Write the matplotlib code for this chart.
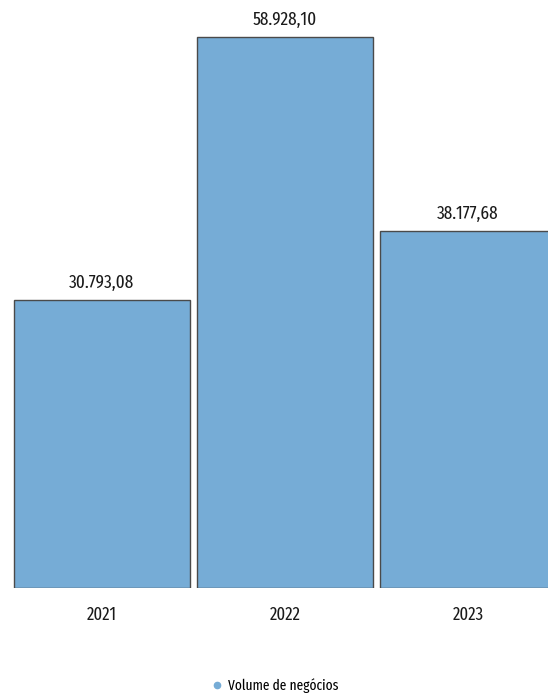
import matplotlib
matplotlib.use("Agg")
import matplotlib.pyplot as plt
from matplotlib.lines import Line2D

plt.rcParams['font.family'] = ['Fira Sans Extra Condensed', 'Carlito', 'DejaVu Sans']

years = ["2021", "2022", "2023"]
volume = [30793.08, 58928.10, 38177.68]
series_name = "Volume de negócios"
bar_color = "#76acd6"


def fmt_pt(v):
    s = f"{v:,.2f}"
    return s.replace(",", "X").replace(".", ",").replace("X", ".")


fig = plt.figure(figsize=(5.48, 6.97), dpi=100)
ax = fig.add_axes([0, 0.1564, 1, 0.8436])

x = list(range(len(years)))
ax.bar(x, volume, width=0.96, color=bar_color, edgecolor="#4a4a4a", linewidth=1.0)

for xi, v in zip(x, volume):
    ax.annotate(fmt_pt(v), (xi, v), xytext=(0, 6), textcoords="offset points",
                ha="center", va="bottom", fontsize=13.5, color="#1a1a1a")

ax.set_xlim(-0.557, 2.437)
ax.set_ylim(0, 62885)
ax.set_xticks(x)
ax.set_xticklabels(years, fontsize=13, color="#1a1a1a")
ax.tick_params(axis="x", length=0, pad=13)
ax.set_yticks([])
for sp in ax.spines.values():
    sp.set_visible(False)

handle = Line2D([], [], marker="o", linestyle="none", markersize=4.5,
                markerfacecolor=bar_color, markeredgecolor=bar_color)
fig.legend([handle], [series_name], loc="center", bbox_to_anchor=(0.5, 0.016),
           frameon=False, fontsize=10.5, handletextpad=0.3, handlelength=1.0)

fig.savefig("out.png", dpi=100, facecolor="white")
